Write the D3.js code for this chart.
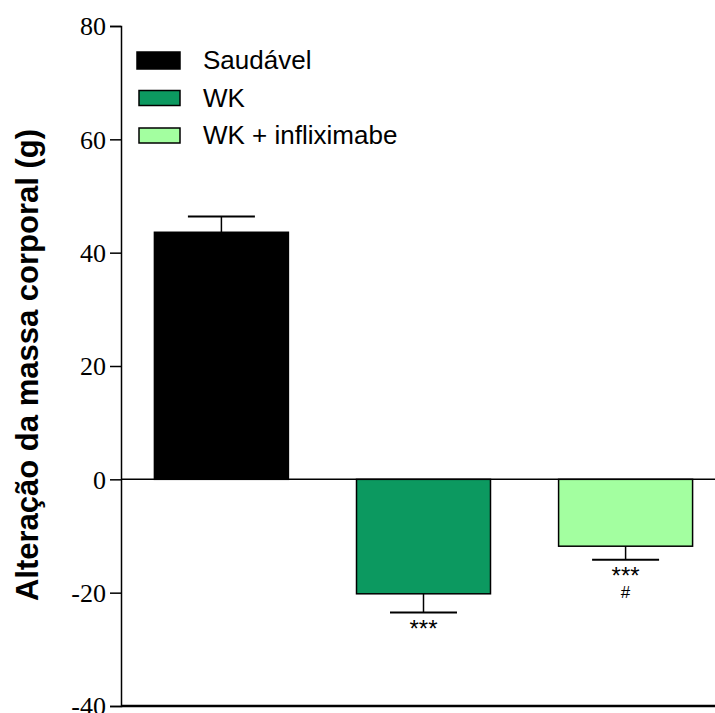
<!DOCTYPE html>
<html>
<head>
<meta charset="utf-8">
<script src="https://cdn.jsdelivr.net/npm/d3@7"></script>
<style>
  body { margin: 0; background: #fff; }
  svg { display: block; }
</style>
</head>
<body>
<svg id="chart" width="715" height="713"></svg>
<script>
// Body-mass change per group (g), mean and SEM
const groups = ["Saudável", "WK", "WK + infliximabe"];
const means = [43.6, -20.2, -11.8];
const sems = [2.8, 3.3, 2.4];
const colors = ["#000000", "#0c9960", "#a3ffa0"];
const annotations = [[], ["***"], ["***", "#"]];
const yTicks = [-40, -20, 0, 20, 40, 60, 80];

(function draw() {
  const svg = d3.select("#chart");
  const plotLeft = 121, plotRight = 715, plotTop = 26, plotBottom = 706;
  const sans = "Arial, 'Liberation Sans', sans-serif";
  const serif = "'Times New Roman', 'Liberation Serif', serif";

  const y = d3.scaleLinear().domain([-40, 80]).range([plotBottom, plotTop]);
  const x = d3.scaleBand().domain(groups).range([114, 733])
    .paddingInner(0.337).paddingOuter(0.2);

  // bars
  svg.selectAll("rect.bar").data(groups).enter().append("rect")
    .attr("class", "bar")
    .attr("x", d => x(d))
    .attr("width", x.bandwidth())
    .attr("y", (d, i) => y(Math.max(0, means[i])))
    .attr("height", (d, i) => Math.abs(y(means[i]) - y(0)))
    .attr("fill", (d, i) => colors[i])
    .attr("stroke", "#000")
    .attr("stroke-width", 1.5);

  // error bars (pointing away from zero) and significance marks
  groups.forEach((g, i) => {
    const cx = x(g) + x.bandwidth() / 2;
    const end = means[i] + Math.sign(means[i]) * sems[i];
    const half = x.bandwidth() / 4;
    svg.append("line").attr("x1", cx).attr("x2", cx)
      .attr("y1", y(means[i])).attr("y2", y(end))
      .attr("stroke", "#000").attr("stroke-width", 1.5);
    svg.append("line").attr("x1", cx - half).attr("x2", cx + half)
      .attr("y1", y(end)).attr("y2", y(end))
      .attr("stroke", "#000").attr("stroke-width", 2);
    annotations[i].forEach(t => {
      svg.append("text")
        .attr("x", cx)
        .attr("y", y(end) + (t === "#" ? 38.5 : 24))
        .attr("text-anchor", "middle")
        .attr("font-family", sans)
        .attr("font-size", t === "#" ? 17 : 24)
        .text(t);
    });
  });

  // zero line
  svg.append("line").attr("x1", plotLeft).attr("x2", plotRight)
    .attr("y1", y(0)).attr("y2", y(0))
    .attr("stroke", "#000").attr("stroke-width", 1.5);

  // bottom axis line
  svg.append("line").attr("x1", plotLeft).attr("x2", plotRight)
    .attr("y1", plotBottom).attr("y2", plotBottom)
    .attr("stroke", "#000").attr("stroke-width", 2.5);

  // y axis
  const yAxis = d3.axisLeft(y).tickValues(yTicks).tickSize(11).tickPadding(4)
    .tickFormat(d => String(d));
  const ga = svg.append("g").attr("transform", `translate(${plotLeft},0)`).call(yAxis);
  ga.attr("font-family", serif).attr("font-size", 26);
  ga.select(".domain").attr("stroke-width", 1.5);
  ga.selectAll(".tick line").attr("stroke-width", 1.5);
  ga.selectAll(".tick text").attr("fill", "#000").attr("dy", "0.34em");

  // y axis title
  svg.append("text")
    .attr("transform", `translate(38,365) rotate(-90)`)
    .attr("text-anchor", "middle")
    .attr("font-family", sans)
    .attr("font-weight", "bold")
    .attr("font-size", 31)
    .text("Alteração da massa corporal (g)");

  // legend
  const lg = svg.append("g");
  groups.forEach((g, i) => {
    const cy = 60.5 + i * 37.5;
    lg.append("rect")
      .attr("x", i === 0 ? 137 : 139).attr("y", cy - (i === 0 ? 8.5 : 7.5))
      .attr("width", i === 0 ? 43 : 41).attr("height", i === 0 ? 17 : 15)
      .attr("fill", colors[i]).attr("stroke", "#000").attr("stroke-width", 1.5);
    lg.append("text")
      .attr("x", 203).attr("y", cy + 8.5)
      .attr("font-family", sans)
      .attr("font-size", 26)
      .text(g);
  });
})();
</script>
</body>
</html>
